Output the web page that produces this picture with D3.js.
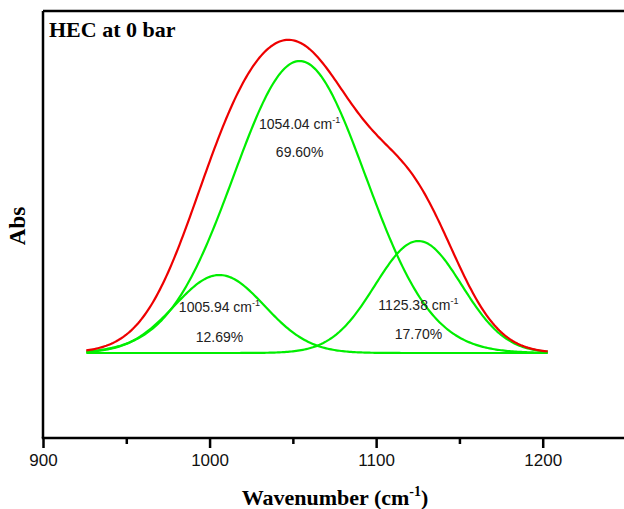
<!DOCTYPE html>
<html>
<head>
<meta charset="utf-8">
<script src="https://cdn.jsdelivr.net/npm/d3@7"></script>
<style>
  body { margin: 0; background: #fff; }
  svg { display: block; }
</style>
</head>
<body>
<svg id="chart" width="624" height="509"></svg>
<script>
// Deconvoluted FTIR band of HEC at 0 bar: three gaussian components + envelope

// fitted peak parameters
var peakCenters = [1005.94, 1054.04, 1125.38];
var peakHeights = [0.78, 2.92, 1.12];   // arbitrary Abs units above baseline
var peakWidths = [27, 39.6, 26];        // gaussian sigma, cm-1
var peakAreas = ['12.69%', '69.60%', '17.70%'];
var waveRange = [926, 1203];

var majorTicks = [900, 1000, 1100, 1200];
var minorTicks = [950, 1050, 1150];

var svg = d3.select('#chart');

var x = d3.scaleLinear().domain([900, 1250]).range([43, 626]);
var y = d3.scaleLinear().domain([-0.85, 3.42]).range([438, 11]);

function gauss(i, w) {
    var d = (w - peakCenters[i]) / peakWidths[i];
    return peakHeights[i] * Math.exp(-d * d / 2);
}

// sample positions along the fitted range
var waves = d3.range(waveRange[0], waveRange[1] + 0.5, 1);

var line = d3.line()
    .x(function(d) { return x(d[0]); })
    .y(function(d) { return y(d[1]); });

var g = svg.append('g');

// components
peakCenters.forEach(function(c, i) {
    g.append('path')
        .datum(waves.map(function(w) { return [w, gauss(i, w)]; }))
        .attr('fill', 'none')
        .attr('stroke', '#00ee00')
        .attr('stroke-width', 2.2)
        .attr('d', line);
});

// envelope
g.append('path')
    .datum(waves.map(function(w) {
        return [w, d3.sum(peakCenters, function(c, i) { return gauss(i, w); })];
    }))
    .attr('fill', 'none')
    .attr('stroke', '#ee0000')
    .attr('stroke-width', 2.2)
    .attr('d', line);

// peak labels
var labelY = [[312, 342], [129, 157], [310, 339]];
peakCenters.forEach(function(c, i) {
    var t = g.append('text')
        .attr('x', x(c))
        .attr('y', labelY[i][0])
        .attr('text-anchor', 'middle')
        .style('font-family', 'Liberation Sans, Arial, sans-serif')
        .style('font-size', '14px')
        .style('fill', '#222');
    t.append('tspan').text(c.toFixed(2) + ' cm');
    t.append('tspan').attr('dy', -6).style('font-size', '9px').text('-1');

    g.append('text')
        .attr('x', x(c))
        .attr('y', labelY[i][1])
        .attr('text-anchor', 'middle')
        .style('font-family', 'Liberation Sans, Arial, sans-serif')
        .style('font-size', '14px')
        .style('fill', '#222')
        .text(peakAreas[i]);
});

// frame: left, top, bottom (right edge falls outside the picture)
var frame = svg.append('g')
    .attr('stroke', '#000')
    .attr('stroke-width', 2.5)
    .attr('fill', 'none');
frame.append('line').attr('x1', x(900)).attr('x2', x(900)).attr('y1', y.range()[1]).attr('y2', y.range()[0]);
frame.append('line').attr('x1', x(900)).attr('x2', 624).attr('y1', y.range()[1]).attr('y2', y.range()[1]);

// x axis
var xAxis = d3.axisBottom(x)
    .tickValues(majorTicks)
    .tickSize(10)
    .tickPadding(6)
    .tickFormat(d3.format('d'));

var xMinor = d3.axisBottom(x)
    .tickValues(minorTicks)
    .tickSize(6)
    .tickFormat('');

svg.append('g')
    .attr('transform', 'translate(0,' + y.range()[0] + ')')
    .call(xMinor)
    .call(function(s) {
        s.select('.domain').remove();
        s.selectAll('line').attr('stroke-width', 2.5);
    });

svg.append('g')
    .attr('transform', 'translate(0,' + y.range()[0] + ')')
    .call(xAxis)
    .call(function(s) {
        s.select('.domain').remove();
        s.selectAll('line').attr('stroke-width', 2.5);
        s.selectAll('text')
            .style('font-family', 'Liberation Sans, Arial, sans-serif')
            .style('font-size', '17px')
            .style('fill', '#111');
    });

frame.append('line').attr('x1', x(900) - 1.25).attr('x2', 624).attr('y1', y.range()[0]).attr('y2', y.range()[0]);

// titles
var serif = 'Liberation Serif, Times New Roman, serif';

svg.append('text')
    .attr('x', 49)
    .attr('y', 37)
    .style('font-family', serif)
    .style('font-weight', 'bold')
    .style('font-size', '22px')
    .text('HEC at 0 bar');

var xt = svg.append('text')
    .attr('x', 335)
    .attr('y', 505)
    .attr('text-anchor', 'middle')
    .style('font-family', serif)
    .style('font-weight', 'bold')
    .style('font-size', '22px');
xt.append('tspan').text('Wavenumber (cm');
xt.append('tspan').attr('dy', -9).style('font-size', '14px').text('-1');
xt.append('tspan').attr('dy', 9).text(')');

svg.append('text')
    .attr('transform', 'translate(25,226) rotate(-90)')
    .attr('text-anchor', 'middle')
    .style('font-family', serif)
    .style('font-weight', 'bold')
    .style('font-size', '23px')
    .text('Abs');
</script>
</body>
</html>
